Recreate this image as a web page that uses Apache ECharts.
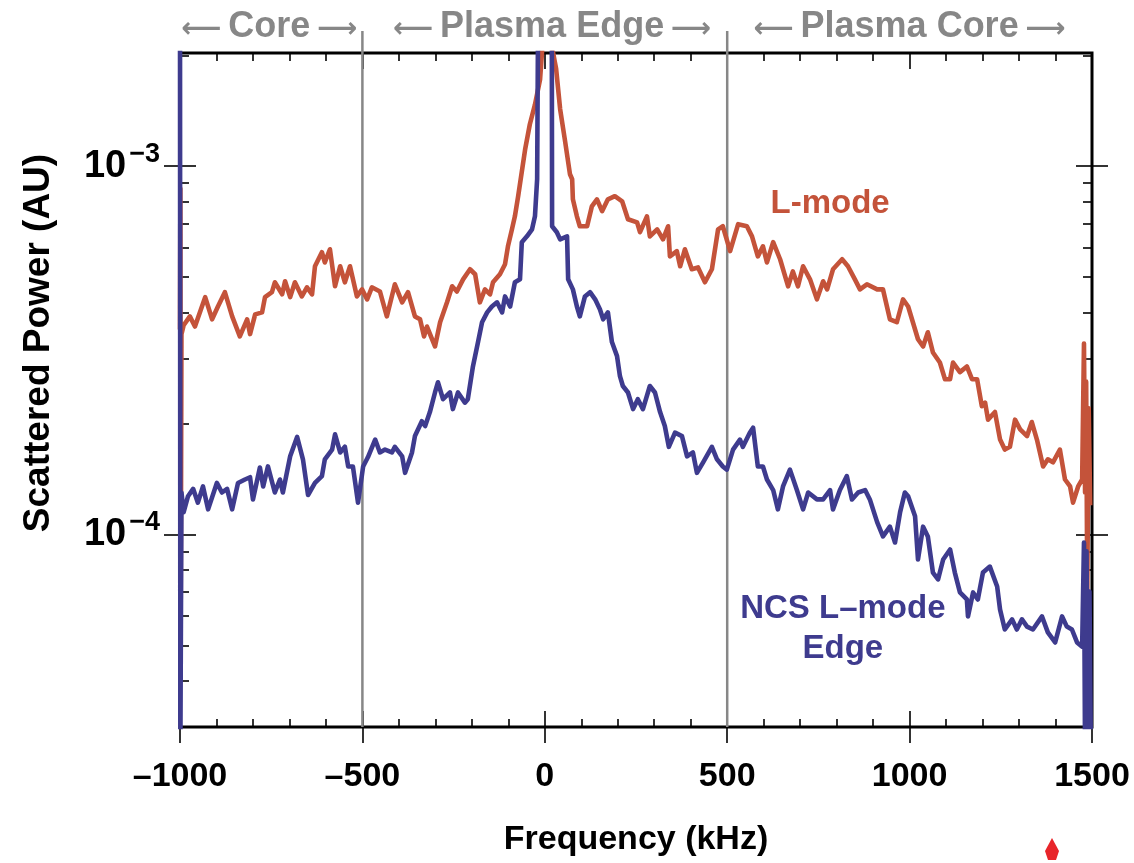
<!DOCTYPE html>
<html><head><meta charset="utf-8">
<script src="https://cdn.jsdelivr.net/npm/echarts@6/dist/echarts.min.js"></script>
<style>html,body{margin:0;padding:0;background:#fff}#c{width:1134px;height:863px}</style>
</head><body><div id="c"></div>
<script>
// ---------------- data ----------------
const xTickValues = [-1000, -500, 0, 500, 1000, 1500];
const yMajorTicks = [1e-4, 1e-3];
const yMinorTicks = [4e-5,5e-5,6e-5,7e-5,8e-5,9e-5,2e-4,3e-4,4e-4,5e-4,6e-4,7e-4,8e-4,9e-4,2e-3];
const regionLabels = ['Core', 'Plasma Edge', 'Plasma Core'];
const regionCenters = [-755, 20, 1000];
const regionBounds = [-500, 500];
const seriesNames = ['L-mode', 'NCS L\u2013mode Edge'];

// L-mode scattered power [kHz, AU]
const lModePoints = [
[-1000,3.6e-4],[-999,8.7e-4],[-998,6.5e-5],[-996,3.5e-4],[-990,3.7e-4],[-973,3.91e-4],[-959,3.67e-4],
[-931,4.41e-4],[-912,3.84e-4],[-896,4.16e-4],[-877,4.55e-4],[-857,3.91e-4],[-836,3.45e-4],[-816,3.84e-4],
[-808,3.50e-4],[-794,3.96e-4],[-775,4.01e-4],[-767,4.41e-4],[-748,4.55e-4],[-740,4.84e-4],[-720,4.49e-4],
[-712,4.87e-4],[-698,4.41e-4],[-685,4.84e-4],[-666,4.43e-4],[-652,4.69e-4],[-638,4.49e-4],[-630,5.35e-4],
[-611,5.84e-4],[-603,5.48e-4],[-589,5.95e-4],[-575,4.72e-4],[-561,5.35e-4],[-548,4.84e-4],[-534,5.35e-4],
[-515,4.43e-4],[-501,4.63e-4],[-487,4.35e-4],[-474,4.69e-4],[-452,4.57e-4],[-433,3.91e-4],[-411,4.78e-4],
[-391,4.27e-4],[-375,4.55e-4],[-356,3.91e-4],[-342,3.84e-4],[-331,3.45e-4],[-323,3.67e-4],[-301,3.24e-4],
[-287,3.77e-4],[-268,4.27e-4],[-254,4.72e-4],[-241,4.57e-4],[-224,4.93e-4],[-205,5.25e-4],[-191,5.09e-4],
[-178,4.27e-4],[-164,4.63e-4],[-150,4.49e-4],[-142,4.84e-4],[-123,5.09e-4],[-109,5.42e-4],[-101,6.06e-4],
[-90,6.74e-4],[-82,7.31e-4],[-73,8.29e-4],[-54,1.11e-3],[-41,1.30e-3],[-27,1.47e-3],[-13,1.72e-3],
[0,2.6e-3],[12,2.6e-3],[20,2.1e-3],[31,1.84e-3],[42,1.43e-3],[55,1.18e-3],[69,9.51e-4],[75,9.22e-4],
[77,8.13e-4],[88,7.31e-4],[96,6.87e-4],[116,6.87e-4],[129,7.78e-4],[143,8.13e-4],[157,7.55e-4],[173,8.13e-4],
[192,8.29e-4],[212,8.03e-4],[228,7.18e-4],[253,7.04e-4],[261,6.62e-4],[280,7.31e-4],[288,6.45e-4],[308,6.74e-4],
[324,6.33e-4],[338,6.87e-4],[343,5.69e-4],[362,5.88e-4],[371,5.35e-4],[384,5.95e-4],[403,5.25e-4],[420,5.31e-4],
[439,4.84e-4],[458,5.25e-4],[475,6.74e-4],[488,6.87e-4],[508,5.88e-4],[530,6.96e-4],[554,6.87e-4],[568,6.45e-4],
[584,5.69e-4],[598,6.06e-4],[609,5.48e-4],[626,6.22e-4],[645,5.59e-4],[667,4.72e-4],[680,5.18e-4],[694,4.72e-4],
[708,5.35e-4],[727,4.93e-4],[746,4.35e-4],[763,4.87e-4],[774,4.63e-4],[790,5.25e-4],[815,5.59e-4],[831,5.35e-4],
[850,4.93e-4],[864,4.63e-4],[883,4.78e-4],[911,4.63e-4],[927,4.63e-4],[946,3.84e-4],[965,3.77e-4],[982,4.35e-4],
[996,4.16e-4],[1009,3.77e-4],[1023,3.39e-4],[1037,3.24e-4],[1050,3.54e-4],[1064,3.12e-4],[1083,2.93e-4],
[1097,2.64e-4],[1111,2.64e-4],[1119,2.93e-4],[1138,2.76e-4],[1157,2.86e-4],[1171,2.64e-4],[1185,2.64e-4],
[1198,2.23e-4],[1207,2.28e-4],[1215,2.05e-4],[1234,2.15e-4],[1248,1.81e-4],[1261,1.70e-4],[1275,1.73e-4],
[1289,2.05e-4],[1303,1.93e-4],[1322,1.85e-4],[1335,2.02e-4],[1349,1.81e-4],[1366,1.53e-4],[1379,1.60e-4],
[1393,1.57e-4],[1412,1.70e-4],[1426,1.41e-4],[1440,1.35e-4],[1448,1.22e-4],[1462,1.35e-4],[1473,1.41e-4],
[1478,3.3e-4],[1481,1.3e-4],[1484,2.6e-4],[1487,7e-5],[1491,2.2e-4],[1495,1.2e-4]
];

// NCS L-mode edge scattered power [kHz, AU]
const ncsPoints = [
[-1000,3e-3],[-999,2.5e-5],[-996,1.3e-4],[-990,1.15e-4],[-978,1.27e-4],[-964,1.33e-4],[-951,1.22e-4],
[-937,1.35e-4],[-923,1.17e-4],[-899,1.38e-4],[-885,1.30e-4],[-871,1.33e-4],[-857,1.17e-4],[-841,1.38e-4],
[-822,1.41e-4],[-808,1.43e-4],[-800,1.245e-4],[-781,1.52e-4],[-772,1.35e-4],[-759,1.53e-4],[-740,1.30e-4],
[-726,1.41e-4],[-718,1.30e-4],[-698,1.63e-4],[-679,1.84e-4],[-663,1.60e-4],[-649,1.28e-4],[-630,1.38e-4],
[-611,1.44e-4],[-603,1.60e-4],[-583,1.70e-4],[-575,1.87e-4],[-561,1.67e-4],[-548,1.73e-4],[-539,1.53e-4],
[-526,1.53e-4],[-512,1.22e-4],[-498,1.53e-4],[-485,1.62e-4],[-465,1.81e-4],[-452,1.67e-4],[-438,1.70e-4],
[-419,1.67e-4],[-411,1.73e-4],[-391,1.63e-4],[-383,1.47e-4],[-364,1.67e-4],[-356,1.85e-4],[-337,2.03e-4],
[-328,1.97e-4],[-315,2.15e-4],[-301,2.43e-4],[-293,2.59e-4],[-279,2.33e-4],[-260,2.43e-4],[-252,2.19e-4],
[-238,2.43e-4],[-219,2.28e-4],[-211,2.33e-4],[-197,2.86e-4],[-183,3.33e-4],[-172,3.77e-4],[-158,4.01e-4],
[-145,4.16e-4],[-131,4.27e-4],[-117,4.01e-4],[-109,4.43e-4],[-95,4.16e-4],[-82,4.84e-4],[-68,4.93e-4],
[-63,6.22e-4],[-49,6.45e-4],[-35,6.74e-4],[-27,7.31e-4],[-21,9.22e-4],[-18,3e-3],[19,3e-3],[20,6.87e-4],
[33,6.62e-4],[42,6.33e-4],[61,6.45e-4],[64,4.93e-4],[77,4.63e-4],[88,4.16e-4],[96,3.91e-4],[110,4.43e-4],
[124,4.55e-4],[138,4.35e-4],[151,4.09e-4],[160,3.84e-4],[173,4.01e-4],[184,3.33e-4],[198,3.05e-4],[206,2.69e-4],
[214,2.53e-4],[228,2.43e-4],[242,2.19e-4],[255,2.33e-4],[269,2.19e-4],[288,2.53e-4],[302,2.43e-4],[316,2.15e-4],
[329,1.97e-4],[340,1.73e-4],[357,1.89e-4],[376,1.85e-4],[390,1.63e-4],[406,1.67e-4],[417,1.47e-4],[434,1.57e-4],
[458,1.73e-4],[472,1.60e-4],[488,1.53e-4],[499,1.50e-4],[516,1.70e-4],[535,1.81e-4],[543,1.73e-4],[562,1.89e-4],
[571,1.95e-4],[584,1.53e-4],[598,1.53e-4],[609,1.41e-4],[626,1.32e-4],[639,1.17e-4],[653,1.35e-4],[672,1.50e-4],
[691,1.32e-4],[708,1.17e-4],[722,1.30e-4],[746,1.245e-4],[763,1.245e-4],[782,1.32e-4],[790,1.17e-4],[809,1.32e-4],
[828,1.44e-4],[842,1.245e-4],[859,1.30e-4],[878,1.32e-4],[891,1.245e-4],[911,1.08e-4],[927,9.88e-5],[946,1.05e-4],
[960,9.51e-5],[974,1.15e-4],[987,1.30e-4],[996,1.27e-4],[1015,1.12e-4],[1023,8.55e-5],[1037,1.05e-4],[1050,9.88e-5],
[1064,7.88e-5],[1078,7.55e-5],[1092,8.55e-5],[1111,9.10e-5],[1124,7.88e-5],[1138,6.96e-5],[1157,6.66e-5],
[1160,5.99e-5],[1174,6.96e-5],[1187,6.66e-5],[1201,7.88e-5],[1220,8.18e-5],[1240,7.22e-5],[1248,6.25e-5],
[1261,5.52e-5],[1281,5.88e-5],[1294,5.52e-5],[1308,5.88e-5],[1322,5.62e-5],[1338,5.52e-5],[1363,5.99e-5],
[1379,5.42e-5],[1399,5.09e-5],[1418,5.99e-5],[1431,5.62e-5],[1445,5.52e-5],[1459,5.09e-5],[1473,4.96e-5],
[1478,9.5e-5],[1481,2.5e-5],[1485,9e-5],[1489,2.5e-5],[1493,7e-5],[1497,2.5e-5]
];

// label anchor positions in data space [kHz, AU]
const lModeLabelAt = [782, 7.9e-4];
const ncsLabelAt = [817, 5.55e-5];

// ---------------- chart ----------------
const FONT = "'Liberation Sans', Arial, sans-serif";
const RED = '#C4533A', BLUE = '#3E3B8E', GRAY = '#878787';
const X_MIN = -1000, X_MAX = 1500, Y_MIN = 3.0e-5, Y_MAX = 2.03e-3;

const chart = echarts.init(document.getElementById('c'), null, {renderer: 'canvas'});

const tickLine = {color: '#000', width: 1.6};
function xAx(extra) {
  return Object.assign({type: 'value', min: X_MIN, max: X_MAX, interval: 500,
    axisLine: {show: false, onZero: false}, splitLine: {show: false}, axisLabel: {show: false}}, extra);
}
function yAx(extra) {
  return Object.assign({type: 'log', logBase: 10, min: Y_MIN, max: Y_MAX,
    axisLine: {show: false, onZero: false}, splitLine: {show: false}, axisLabel: {show: false}}, extra);
}
const xFmt = v => (v < 0 ? '\u2013' + Math.abs(v) : String(v));
const yFmt = v => '{b|10}{s|\u2212' + Math.round(-Math.log10(v)) + '}';

chart.setOption({
  animation: false,
  backgroundColor: '#fff',
  grid: {left: 180, right: 42, top: 53, bottom: 136, show: true, borderColor: '#000', borderWidth: 3,
         containLabel: false, outerBoundsMode: 'none'},
  xAxis: [
    xAx({position: 'bottom', axisTick: {inside: true, length: 16, lineStyle: tickLine},
      minorTick: {show: true, splitNumber: 5, length: 8, lineStyle: tickLine}}),
    xAx({position: 'bottom', axisTick: {inside: false, length: 16, lineStyle: tickLine},
      axisLabel: {show: true, margin: 33, fontSize: 34, fontWeight: 'bold', fontFamily: FONT, color: '#000', formatter: xFmt},
      name: 'Frequency (kHz)', nameLocation: 'middle', nameGap: 96,
      nameTextStyle: {fontSize: 34, fontWeight: 'bold', fontFamily: FONT, color: '#000'}}),
    xAx({position: 'top', axisTick: {inside: true, length: 16, lineStyle: tickLine},
      minorTick: {show: true, splitNumber: 5, length: 8, lineStyle: tickLine}})
  ],
  yAxis: [
    yAx({position: 'left', axisTick: {inside: false, length: 16, customValues: yMajorTicks, lineStyle: tickLine},
      axisLabel: {show: true, customValues: yMajorTicks, margin: 20, formatter: yFmt,
        rich: {b: {fontSize: 38, fontWeight: 'bold', fontFamily: FONT, color: '#000'},
               s: {fontSize: 27, fontWeight: 'bold', fontFamily: FONT, color: '#000', padding: [0, 0, 24, 3]}}},
      name: 'Scattered Power (AU)', nameLocation: 'middle', nameGap: 123, nameRotate: 90,
      nameTextStyle: {fontSize: 37, fontWeight: 'bold', fontFamily: FONT, color: '#000', padding: [0, 0, 0, 94]}}),
    yAx({position: 'left', axisTick: {inside: true, length: 16, customValues: yMajorTicks, lineStyle: tickLine}}),
    yAx({position: 'left', axisTick: {inside: true, length: 9, customValues: yMinorTicks, lineStyle: tickLine}}),
    yAx({position: 'right', axisTick: {inside: false, length: 16, customValues: yMajorTicks, lineStyle: tickLine}}),
    yAx({position: 'right', axisTick: {inside: true, length: 16, customValues: yMajorTicks, lineStyle: tickLine}}),
    yAx({position: 'right', axisTick: {inside: true, length: 9, customValues: yMinorTicks, lineStyle: tickLine}})
  ],
  series: [
    {name: seriesNames[0], type: 'line', xAxisIndex: 0, yAxisIndex: 0, data: lModePoints,
     showSymbol: false, clip: true, lineStyle: {color: RED, width: 4.6, join: 'round'}, z: 3},
    {name: seriesNames[1], type: 'line', xAxisIndex: 0, yAxisIndex: 0, data: ncsPoints,
     showSymbol: false, clip: true, lineStyle: {color: BLUE, width: 4.6, join: 'round'}, z: 4}
  ]
});

// ---------- overlays positioned through the axes ----------
const px = v => chart.convertToPixel({xAxisIndex: 0}, v);
const pt = p => chart.convertToPixel({xAxisIndex: 0, yAxisIndex: 0}, p);
const gTop = 53, gBottom = 863 - 136;
const graphics = [];
regionBounds.forEach(b => {
  graphics.push({type: 'line', silent: true, z: 2,
    shape: {x1: px(b), y1: gTop - 22, x2: px(b), y2: gBottom},
    style: {stroke: GRAY, lineWidth: 2.5}});
});
regionLabels.forEach((t, i) => {
  graphics.push({type: 'text', silent: true, x: px(regionCenters[i]), y: 27,
    style: {text: '{a|\u27F5}  {t|' + t + '}  {a|\u27F6}', align: 'center', verticalAlign: 'middle',
      fill: GRAY,
      rich: {a: {fontFamily: 'DejaVu Sans', fontSize: 28, fontWeight: 'bold', fill: GRAY, padding: [6, 0, 0, 0]},
             t: {fontFamily: FONT, fontSize: 36, fontWeight: 'bold', fill: GRAY}}}});
});
const lp = pt(lModeLabelAt);
graphics.push({type: 'text', silent: true, x: lp[0], y: lp[1],
  style: {text: 'L-mode', align: 'center', verticalAlign: 'middle', fontFamily: FONT, fontSize: 33, fontWeight: 'bold', fill: RED}});
const np = pt(ncsLabelAt);
graphics.push({type: 'text', silent: true, x: np[0], y: np[1],
  style: {text: 'NCS L\u2013mode\nEdge', align: 'center', verticalAlign: 'middle', lineHeight: 40,
    fontFamily: FONT, fontSize: 33, fontWeight: 'bold', fill: BLUE}});
graphics.push({type: 'polygon', silent: true,
  shape: {points: [[1052, 838], [1059, 851], [1056, 860], [1048, 860], [1045, 851]]},
  style: {fill: '#E8252A'}});
chart.setOption({graphic: graphics});
</script>
</body></html>
